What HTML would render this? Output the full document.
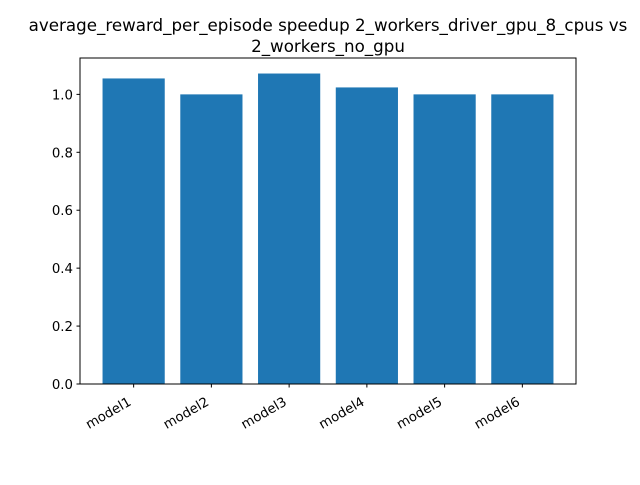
<!DOCTYPE html>
<html><head><meta charset="utf-8"><style>
body{margin:0;background:#fff;}
svg text{font-family:"DejaVu Sans","Liberation Sans",sans-serif;fill:#000;}
</style></head><body>
<svg id="chart" width="640" height="480" viewBox="0 0 640 480" xmlns="http://www.w3.org/2000/svg">
<rect width="640" height="480" fill="#fff"/>
<text x="328" y="31" font-size="16.7" text-anchor="middle">average_reward_per_episode speedup 2_workers_driver_gpu_8_cpus vs</text>
<text x="328" y="52" font-size="16.7" text-anchor="middle">2_workers_no_gpu</text>
<g id="bars"></g>
<g id="yaxis"></g>
<g id="xaxis"></g>
<rect x="80" y="58" width="496" height="326" fill="none" stroke="#000" stroke-width="1"/>
</svg>
<script>
const categories = ["model1","model2","model3","model4","model5","model6"];
const values = [1.055, 1.0, 1.072, 1.024, 1.0, 1.0];
const yTicks = [0.0, 0.2, 0.4, 0.6, 0.8, 1.0];
const yTickLabels = ["0.0","0.2","0.4","0.6","0.8","1.0"];

const NS = "http://www.w3.org/2000/svg";
const L=80, R=576, T=58, B=384;
const yMax = Math.max(...values)*1.05;
const xMin = -0.4 - 0.05*(categories.length-0.2), xMax = categories.length-1+0.4+0.05*(categories.length-0.2);
const xs = v => L + (v - xMin)/(xMax - xMin)*(R-L);
const ys = v => B - v/yMax*(B-T);
function mk(tag, attrs, parent){const e=document.createElementNS(NS,tag);for(const k in attrs)e.setAttribute(k,attrs[k]);parent.appendChild(e);return e;}
const gb=document.getElementById('bars'), gy=document.getElementById('yaxis'), gx=document.getElementById('xaxis');
values.forEach((v,i)=>{
  const r=mk('rect',{x:xs(i-0.4),y:ys(v),width:xs(i+0.4)-xs(i-0.4),height:ys(0)-ys(v),fill:'#1f77b4'},gb);
  
  
});
yTicks.forEach((t,i)=>{
  const y=ys(t);
  const l=mk('line',{x1:L-3.5,x2:L,y1:y,y2:y,stroke:'#000'},gy);
  
  
  const tx=mk('text',{x:L-7,y:y+5,'font-size':'13.3','text-anchor':'end'},gy);
  tx.textContent=yTickLabels[i];
  
  
});
categories.forEach((c,i)=>{
  const x=xs(i);
  const l=mk('line',{x1:x,x2:x,y1:B,y2:B+3.5,stroke:'#000'},gx);
  
  
  const tx=mk('text',{x:x-4,y:B+21,'font-size':'13.3','text-anchor':'end',transform:`rotate(-30 ${x-4} ${B+16})`},gx);
  tx.textContent=c;
  
  
});
</script>
</body></html>
